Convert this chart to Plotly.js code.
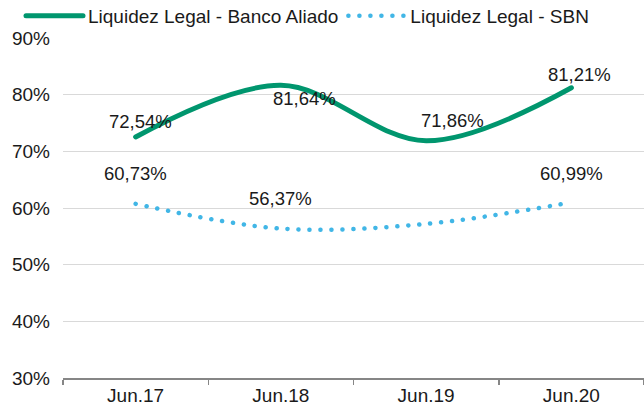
<!DOCTYPE html>
<html>
<head>
<meta charset="utf-8">
<script src="https://cdn.plot.ly/plotly-3.0.1.min.js"></script>
<style>
html,body{margin:0;padding:0;background:#fff;}
#chart{width:644px;height:413px;}
#chart path.js-line{stroke-linecap:round;}
</style>
</head>
<body>
<div id="chart"></div>
<script>
const categories = ["Jun.17", "Jun.18", "Jun.19", "Jun.20"];
const bancoAliado = [72.54, 81.64, 71.86, 81.21];
const sbn = [60.73, 56.37, 57.2, 60.99];
const sbnLabelShown = [true, true, false, true];
const seriesNames = ["Liquidez Legal - Banco Aliado", "Liquidez Legal - SBN"];
const yTicks = [30, 40, 50, 60, 70, 80, 90];

// label offsets (styling, pixels)
const greenShift = [[5, 15], [24, -13], [26, 20], [8, 13]];
const blueShift = [[0, 30], [0, 30], [0, 0], [0, 29]];

const fmt = v => v.toFixed(2).replace('.', ',') + '%';
const FONT = 'Liberation Sans, Arial, sans-serif';
const GREEN = '#00966e';
const BLUE = '#41b6e6';

const traces = [
  {
    x: categories, y: bancoAliado, name: seriesNames[0], type: 'scatter', mode: 'lines',
    line: {color: GREEN, width: 5, shape: 'spline', smoothing: 1}
  },
  {
    x: categories, y: sbn, name: seriesNames[1], type: 'scatter', mode: 'lines',
    line: {color: BLUE, width: 4.5, shape: 'spline', smoothing: 1, dash: '0.1px,10.9px'}
  }
];

const annotations = [];
bancoAliado.forEach((v, i) => annotations.push({
  x: categories[i], y: v, xref: 'x', yref: 'y', text: fmt(v), showarrow: false,
  xshift: greenShift[i][0], yshift: greenShift[i][1],
  font: {family: FONT, size: 18.5, color: '#1a1a1a'}
}));
sbn.forEach((v, i) => { if (sbnLabelShown[i]) annotations.push({
  x: categories[i], y: v, xref: 'x', yref: 'y', text: fmt(v), showarrow: false,
  xshift: blueShift[i][0], yshift: blueShift[i][1],
  font: {family: FONT, size: 18.5, color: '#1a1a1a'}
}); });

const layout = {
  width: 644, height: 413,
  margin: {l: 63, r: 0, t: 37, b: 35},
  paper_bgcolor: '#fff', plot_bgcolor: '#fff',
  font: {family: FONT, size: 19, color: '#1a1a1a'},
  showlegend: true,
  legend: {
    orientation: 'h', xref: 'container', yref: 'container',
    x: 0, xanchor: 'left', y: 1, yanchor: 'top',
    itemwidth: 57,
    font: {family: FONT, size: 19, color: '#1a1a1a'},
    bgcolor: 'rgba(0,0,0,0)', tracegroupgap: 0
  },
  xaxis: {
    type: 'category', range: [-0.5, 3.5],
    showgrid: false, zeroline: false,
    showline: true, linecolor: '#868686', linewidth: 1.5,
    ticks: 'outside', tickson: 'boundaries', ticklen: 5, tickcolor: '#868686', tickwidth: 1.5,
    tickfont: {family: FONT, size: 19, color: '#1a1a1a'}
  },
  yaxis: {
    range: [30, 90], tickvals: yTicks, ticktext: yTicks.map(t => t + '%'),
    showgrid: true, gridcolor: '#d9d9d9', gridwidth: 1,
    zeroline: false, showline: false, ticks: '',
    ticklabelstandoff: 12,
    tickfont: {family: FONT, size: 19, color: '#1a1a1a'}
  },
  annotations: annotations
};

function nudge(el, dx, dy) {
  if (!el) return;
  const t = el.getAttribute('transform') || '';
  const m = t.match(/translate\(\s*([-\d.e]+)[ ,]+([-\d.e]+)\s*\)/);
  const x = m ? parseFloat(m[1]) : 0, y = m ? parseFloat(m[2]) : 0;
  el.setAttribute('transform', 'translate(' + (x + dx) + ',' + (y + dy) + ')');
}

Plotly.newPlot('chart', traces, layout, {displayModeBar: false, staticPlot: true}).then(gd => {
  nudge(gd.querySelector('g.legend'), 21, -3);
});
</script>
</body>
</html>
